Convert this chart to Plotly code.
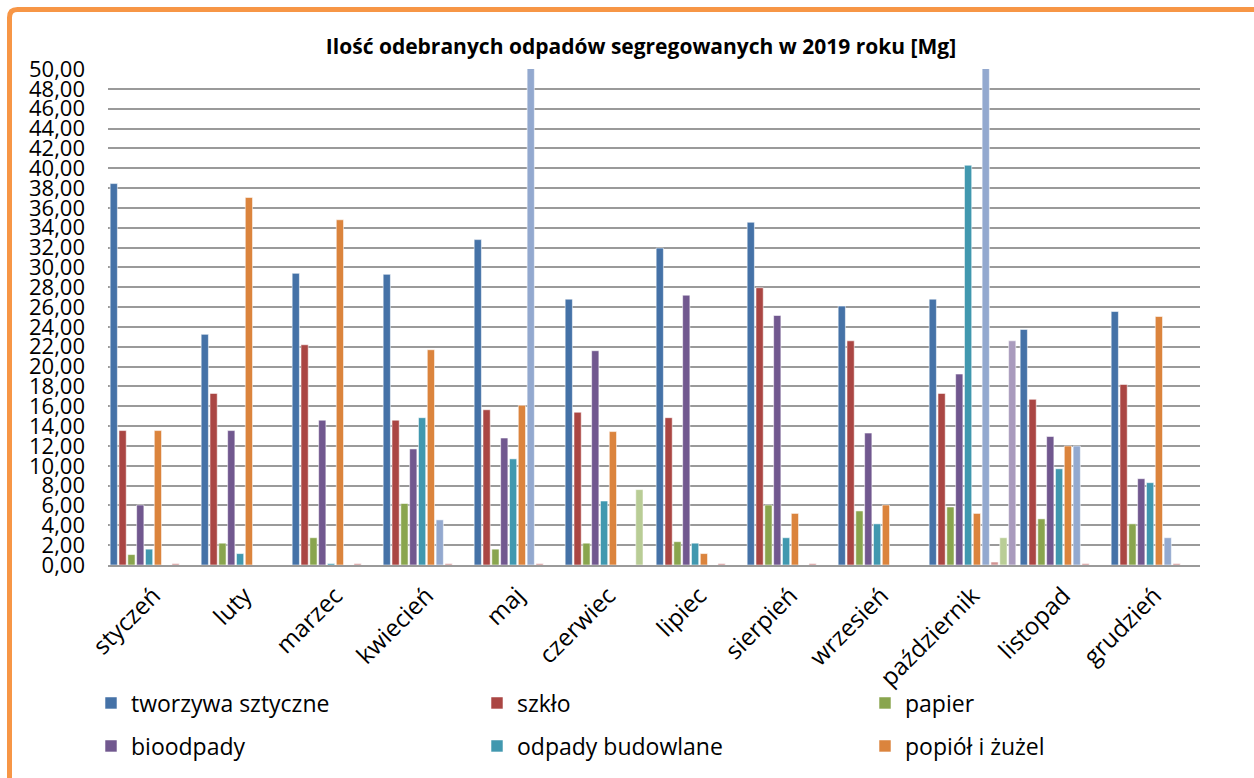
import plotly.graph_objects as go

# Months (category axis)
months = ["styczeń", "luty", "marzec", "kwiecień", "maj", "czerwiec",
          "lipiec", "sierpień", "wrzesień", "październik", "listopad", "grudzień"]

# Collected segregated waste per month [Mg]
tworzywa = [38.45, 23.25, 29.4, 29.3, 32.8, 26.8, 31.95, 34.55, 26.1, 26.8, 23.75, 25.55]
szklo = [13.55, 17.3, 22.2, 14.6, 15.65, 15.4, 14.85, 27.95, 22.6, 17.3, 16.7, 18.2]
papier = [1.05, 2.2, 2.75, 6.2, 1.6, 2.2, 2.35, 6.05, 5.45, 5.85, 4.65, 4.15]
bioodpady = [6.05, 13.55, 14.6, 11.7, 12.8, 21.6, 27.2, 25.15, 13.3, 19.25, 12.95, 8.7]
budowlane = [1.6, 1.15, 0.15, 14.85, 10.7, 6.45, 2.2, 2.75, 4.15, 40.3, 9.7, 8.3]
popiol = [13.55, 37.05, 34.8, 21.7, 16.1, 13.45, 1.15, 5.2, 6.05, 5.2, 12.0, 25.05]
wielkogabarytowe = [None, None, None, 4.55, 62.0, None, None, None, None, 58.0, 12.0, 2.75]
opakowania = [0.15, None, 0.15, 0.15, 0.15, None, 0.15, 0.15, None, 0.3, 0.15, 0.15]
elektro = [None, None, None, None, None, 7.6, None, None, None, 2.75, None, None]
metale = [None, None, None, None, None, None, None, None, None, 22.6, None, None]

series = [
    ("tworzywa sztyczne", tworzywa, "#4572A7", True),
    ("szkło", szklo, "#AA4643", True),
    ("papier", papier, "#89A54E", True),
    ("bioodpady", bioodpady, "#71588F", True),
    ("odpady budowlane", budowlane, "#4198AF", True),
    ("popiół i żużel", popiol, "#DB843D", True),
    ("odpady wielkogabarytowe", wielkogabarytowe, "#93A9CF", False),
    ("opakowania wielomateriałowe", opakowania, "#D19392", False),
    ("zużyty sprzęt elektryczny", elektro, "#B9CD96", False),
    ("metale", metale, "#A99BBD", False),
]

W, H = 1254, 778
L, R, T, B = 108, 54, 69, 212
PW, PH = W - L - R, H - T - B


def px(x):
    return (x - L) / PW


def py(y):
    return (H - B - y) / PH


FONT = "Open Sans"

fig = go.Figure()

# legend slots: (text x, row y) in pixels
legend_pos = [(131, 703), (517, 703), (905, 703), (131, 746), (517, 746), (905, 746)]
leg_layout = {}
for i, (name, vals, color, shown) in enumerate(series):
    kw = {}
    if shown:
        key = "legend" if i == 0 else f"legend{i + 1}"
        kw["legend"] = key
        tx, ty = legend_pos[i]
        leg_layout[key] = dict(
            x=px(tx - 40), y=py(ty), xanchor="left", yanchor="middle",
            bgcolor="rgba(0,0,0,0)", borderwidth=0,
            font=dict(family=FONT, size=23, color="#000000"),
            itemclick=False, itemdoubleclick=False,
        )
    fig.add_trace(go.Bar(
        x=months, y=vals, name=name, showlegend=shown,
        marker=dict(color=color, line=dict(color="rgba(255,255,255,0.55)", width=1)),
        **kw,
    ))

# orange frame with rounded corner
r = 8
x0, y0 = 9.5, 9.5
path = (f"M {px(x0)},{py(800)} L {px(x0)},{py(y0 + r)} "
        f"Q {px(x0)},{py(y0)} {px(x0 + r)},{py(y0)} L {px(W)},{py(y0)}")

fig.update_layout(
    width=W, height=H,
    margin=dict(l=L, r=R, t=T, b=B),
    paper_bgcolor="white", plot_bgcolor="white",
    separators=", ",
    barmode="group", bargap=0.03, bargroupgap=0.18,
    font=dict(family=FONT, color="#000000"),
    title=dict(
        text="<b>Ilość odebranych odpadów segregowanych w 2019 roku [Mg]</b>",
        x=px(641), xref="paper", xanchor="center",
        y=1 - 47 / H, yref="container", yanchor="middle",
        font=dict(family=FONT, size=21, color="#000000"),
    ),
    xaxis=dict(
        type="category", tickangle=-45, showgrid=False,
        showline=True, linecolor="#9a9a9a", linewidth=2,
        ticks="", ticklabelstandoff=5,
        tickfont=dict(family=FONT, size=24, color="#000000"),
    ),
    yaxis=dict(
        range=[0, 50], dtick=2, tickformat=".2f",
        showgrid=True, gridcolor="#9a9a9a", gridwidth=2,
        zeroline=False, showline=False,
        ticks="", ticklabelstandoff=22,
        tickfont=dict(family=FONT, size=22, color="#000000"),
    ),
    shapes=[dict(type="path", path=path, xref="paper", yref="paper",
                 line=dict(color="#F79646", width=5), layer="above")],
    **leg_layout,
)

fig.write_html("out.html")
